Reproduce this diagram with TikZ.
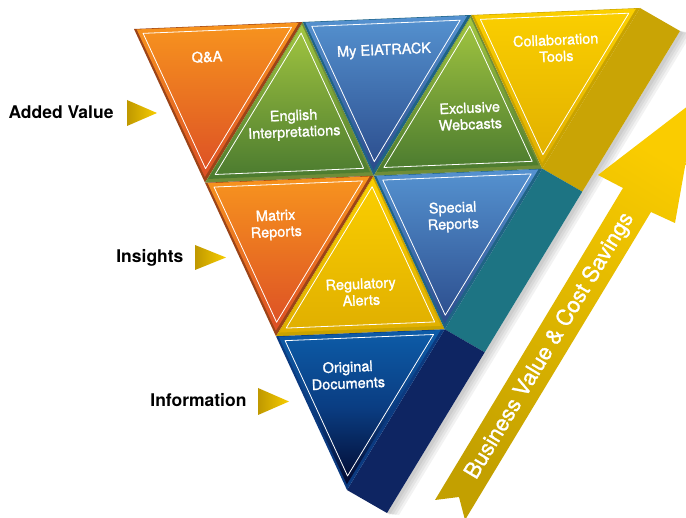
\documentclass[tikz,border=0pt]{standalone}
\usepackage{fontspec}
\setmainfont{TeX Gyre Heros}
\newfontfamily\facefont[FakeBold=1.2]{TeX Gyre Heros}
\usetikzlibrary{calc}

\definecolor{orangetop}{HTML}{F7941E}
\definecolor{orangebot}{HTML}{DC4F25}
\definecolor{orangerim}{HTML}{9C4418}
\definecolor{greentop}{HTML}{A3C640}
\definecolor{greenbot}{HTML}{4A7A2F}
\definecolor{greenrim}{HTML}{6F8D38}
\definecolor{bluetop}{HTML}{5592D0}
\definecolor{bluebot}{HTML}{2B4C8C}
\definecolor{bluerim}{HTML}{1F6485}
\definecolor{yellowtop}{HTML}{FBCF00}
\definecolor{yellowbot}{HTML}{E0AF00}
\definecolor{yellowrim}{HTML}{C9A300}
\definecolor{navytop}{HTML}{0D5CA8}
\definecolor{navymid}{HTML}{0A3D82}
\definecolor{navybot}{HTML}{030A30}
\definecolor{navyrim}{HTML}{0B3A80}
\definecolor{sidegold}{HTML}{C9A405}
\definecolor{sideteal}{HTML}{1D7483}
\definecolor{sidenavy}{HTML}{0E2562}
\definecolor{arrowdark}{HTML}{C3A000}
\definecolor{arrowlight}{HTML}{FACC00}
\definecolor{ptrdark}{HTML}{BF9800}
\definecolor{ptrlight}{HTML}{F8CD00}

\tikzset{
  orangeface/.style={top color=orangetop, bottom color=orangebot},
  greenface/.style={top color=greentop, bottom color=greenbot},
  blueface/.style={top color=bluetop, bottom color=bluebot},
  yellowface/.style={top color=yellowtop, bottom color=yellowbot},
  navyface/.style={top color=navytop, bottom color=navybot, middle color=navymid},
  whiteline/.style={draw=white, line width=0.8pt},
  tlabel/.style={text=white, align=center, rotate=2.5, font=\facefont\fontsize{14.5}{16.5}\selectfont},
  sidelabel/.style={anchor=base east, font=\bfseries\fontsize{17.5}{20}\selectfont},
  pointer/.style={left color=ptrdark, right color=ptrlight},
}

% one facet: corners #1 #2 #3, shading style #4
\newcommand{\facet}[4]{%
  \coordinate (g) at (barycentric cs:#1=1,#2=1,#3=1);
  \shade[#4] ($(g)!0.96!(#1)+(-0.5,-1.5)$) -- ($(g)!0.96!(#2)+(-0.5,-1.5)$) -- ($(g)!0.96!(#3)+(-0.5,-1.5)$) -- cycle;
  \draw[whiteline] ($(g)!0.88!(#1)+(-0.5,-1.5)$) -- ($(g)!0.88!(#2)+(-0.5,-1.5)$) -- ($(g)!0.88!(#3)+(-0.5,-1.5)$) -- cycle;
}

\begin{document}
\begin{tikzpicture}[x=1pt,y=-1pt,line join=round]
  \useasboundingbox (0,0) rectangle (686,518);
  \clip (0,0) rectangle (686,518);
  \fill[white] (0,0) rectangle (686,518);
  % grid of the pyramid
  \coordinate (Q00) at (134,29);
  \coordinate (Q01) at (302.7,22);
  \coordinate (Q02) at (471.3,15);
  \coordinate (Q03) at (640,8);
  \coordinate (Q10) at (205,182.7);
  \coordinate (Q11) at (373.7,175.7);
  \coordinate (Q12) at (542.3,168.7);
  \coordinate (Q20) at (276,336.3);
  \coordinate (Q21) at (444.7,329.3);
  \coordinate (Q30) at (347,490);
  \coordinate (S0) at ($(Q03)+(40,23)$);
  \coordinate (S1) at ($(Q12)+(40,23)$);
  \coordinate (S2) at ($(Q21)+(40,23)$);
  \coordinate (S3) at ($(Q30)+(40,23)$);

  % shadow and side faces
  \foreach \s in {3,6,9,12}
    \fill[black,opacity=0.05] (S0) -- ([shift={(\s,2)}]S0) -- ([shift={(\s,2)}]S3) -- (S3) -- cycle;
  \fill[sidegold] (Q03) -- (S0) -- (S1) -- (Q12) -- cycle;
  \fill[sideteal] (Q12) -- (S1) -- (S2) -- (Q21) -- cycle;
  \fill[sidenavy] (Q21) -- (S2) -- (S3) -- (Q30) -- cycle;

  % rims
  \foreach \a/\b/\c/\col in {Q00/Q01/Q10/orangerim, Q10/Q11/Q01/greenrim,
      Q01/Q02/Q11/bluerim, Q11/Q12/Q02/greenrim, Q02/Q03/Q12/yellowrim,
      Q10/Q11/Q20/orangerim, Q20/Q21/Q11/yellowrim, Q11/Q12/Q21/bluerim,
      Q20/Q21/Q30/navyrim}
    \fill[\col] (\a) -- (\b) -- (\c) -- cycle;

  % facets
  \facet{Q00}{Q01}{Q10}{orangeface}
  \facet{Q10}{Q11}{Q01}{greenface}
  \facet{Q01}{Q02}{Q11}{blueface}
  \facet{Q11}{Q12}{Q02}{greenface}
  \facet{Q02}{Q03}{Q12}{yellowface}
  \facet{Q10}{Q11}{Q20}{orangeface}
  \facet{Q20}{Q21}{Q11}{yellowface}
  \facet{Q11}{Q12}{Q21}{blueface}
  \facet{Q20}{Q21}{Q30}{navyface}

  \node[tlabel] (qa) at (207,57) {Q\&A};
  \node[tlabel] (myeia) at (384,51) {My EIATRACK};
  \node[tlabel] (collab) at (556,48) {Collaboration\\Tools};
  \node[tlabel] (english) at (294,125) {English\\Interpretations};
  \node[tlabel] (webcast) at (470,116) {Exclusive\\Webcasts};
  \node[tlabel] (matrix) at (276,225) {Matrix\\Reports};
  \node[tlabel] (special) at (453,217) {Special\\Reports};
  \node[tlabel] (alerts) at (361,292) {Regulatory\\Alerts};
  \node[tlabel] (origdoc) at (348,375) {Original\\Documents};

  % value arrow
  \coordinate (tl) at (435,500);
  \coordinate (tn) at (459,497);
  \coordinate (tr) at (465,520);
  \coordinate (sl) at (623,188);
  \coordinate (sr) at (651,212);
  \coordinate (bl) at (598,175);
  \coordinate (br) at (675,223);
  \coordinate (tip) at (697,99);
  \shade[top color=arrowlight, bottom color=arrowdark, shading angle=-31]
    (tl) -- (sl) -- (bl) -- (tip) -- (br) -- (sr) -- (tr) -- (tn) -- cycle;
  \node[rotate=59, text=white, font=\facefont\fontsize{22}{24}\selectfont] (gain) at (550,346) {Business Value \& Cost Savings};

  % levels
  \node[sidelabel] (added) at (117,119) {Added Value};
  \shade[pointer] (127,100) -- (157,113) -- (127,126) -- cycle;
  \node[sidelabel] (insights) at (187,263) {Insights};
  \shade[pointer] (195,245) -- (226,257.5) -- (195,270) -- cycle;
  \node[sidelabel] (info) at (250,407) {Information};
  \shade[pointer] (258,388) -- (289,401.5) -- (258,415) -- cycle;
\end{tikzpicture}
\end{document}
